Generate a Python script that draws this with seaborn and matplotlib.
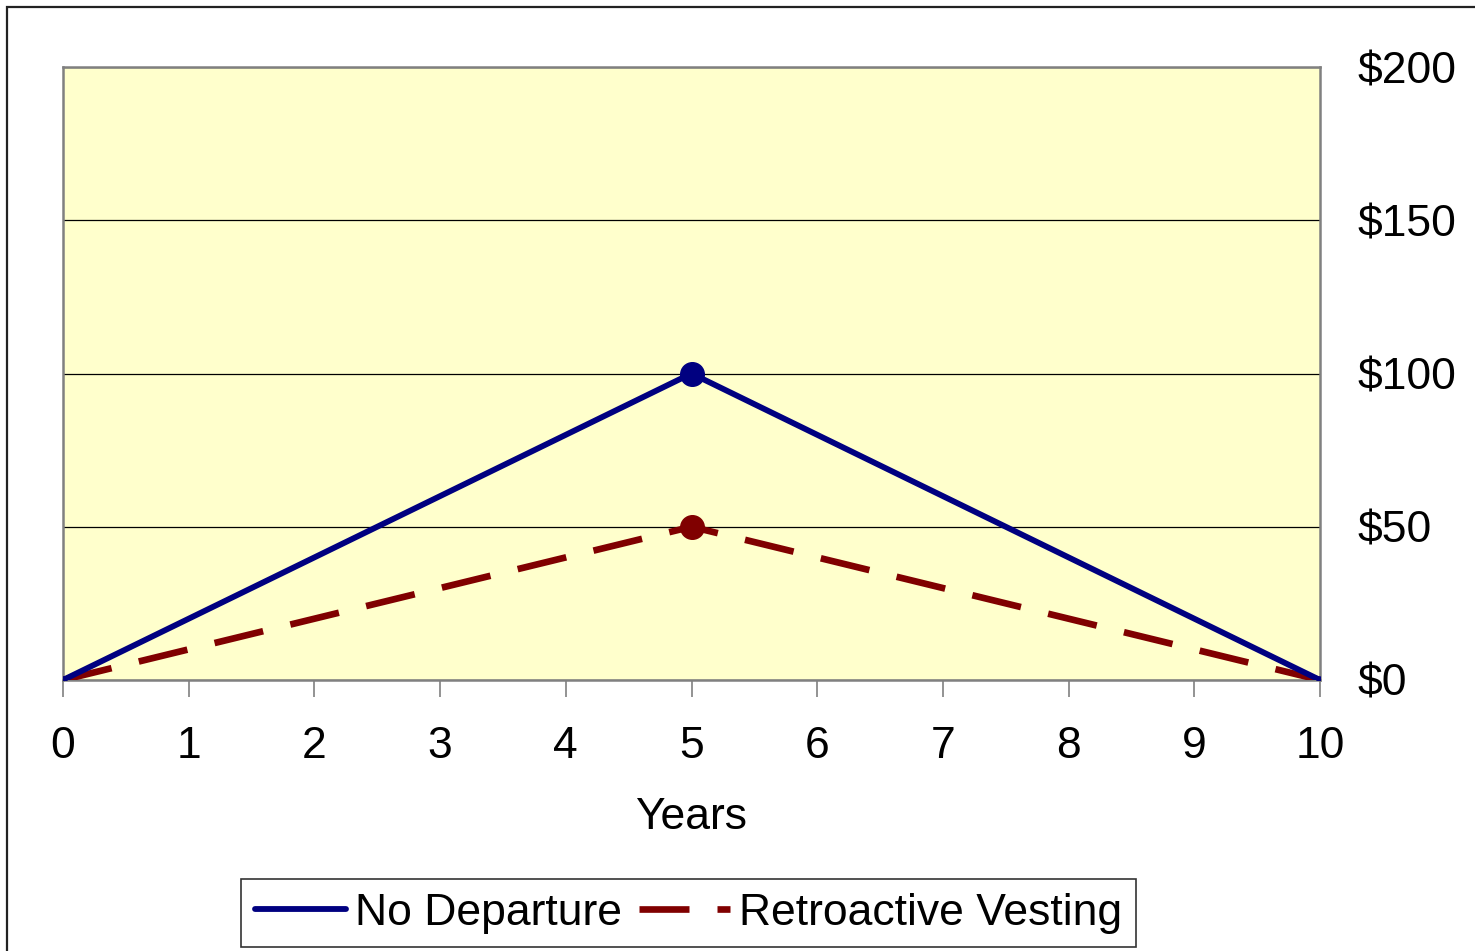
import matplotlib
matplotlib.use("Agg")
import matplotlib.pyplot as plt
import seaborn as sns
import pandas as pd
from matplotlib.patches import Rectangle
from matplotlib.ticker import FuncFormatter

years = [0, 1, 2, 3, 4, 5, 6, 7, 8, 9, 10]
no_departure = [0, 20, 40, 60, 80, 100, 80, 60, 40, 20, 0]
retroactive = [0, 10, 20, 30, 40, 50, 40, 30, 20, 10, 0]
y_ticks = [0, 50, 100, 150, 200]
x_ticks = years

sns.set_theme(style="white")
plt.rcParams['font.family'] = ['Liberation Sans', 'DejaVu Sans']
plt.rcParams['text.color'] = 'black'

FS = 32

fig = plt.figure(figsize=(14.75, 9.51), dpi=100)
fig.patch.set_facecolor("white")
fig.patches.append(Rectangle((7/1475, -0.2), 1.2, 1.2 - 7/951,
                             transform=fig.transFigure, fill=False,
                             edgecolor="#222222", linewidth=1.6, zorder=0))

ax = fig.add_axes([63/1475, 1 - 680/951, (1320 - 63)/1475, (680 - 67)/951])
ax.set_facecolor("#FFFFCC")

df1 = pd.DataFrame({"Years": years, "Value": no_departure})
df2 = pd.DataFrame({"Years": years, "Value": retroactive})

blue = "#000080"
red = "#800000"
sns.lineplot(data=df1, x="Years", y="Value", ax=ax, color=blue, linewidth=4.2,
             label="No Departure", zorder=4)
sns.lineplot(data=df2, x="Years", y="Value", ax=ax, color=red, linewidth=4.8,
             label="Retroactive Vesting", zorder=3)
ax.lines[1].set_dashes([7.5, 4.2])
ax.lines[1].set_dash_capstyle("butt")

# markers
ax.plot([years[5]], [no_departure[5]], "o", color=blue, markersize=17, zorder=5)
ax.plot([years[5]], [retroactive[5]], "o", color=red, markersize=17, zorder=5)
ax.plot([years[0], years[10]], [no_departure[0], no_departure[10]], "o",
        color=blue, markersize=5, zorder=6)

ax.set_xlim(0, 10)
ax.set_ylim(0, 200)
ax.set_xticks(x_ticks)
ax.set_yticks(y_ticks)
ax.yaxis.tick_right()
ax.yaxis.set_major_formatter(FuncFormatter(lambda v, p: f"${int(v)}"))
ax.grid(axis="y", color="black", linewidth=0.9)
ax.set_axisbelow(True)
for s in ax.spines.values():
    s.set_visible(True)
    s.set_color("#808080")
    s.set_linewidth(1.8)

ax.tick_params(axis="x", direction="out", length=12, width=1.2, color="#808080",
               labelsize=FS, pad=21, bottom=True, labelcolor="black")
ax.tick_params(axis="y", length=0, labelsize=FS, pad=27, right=True,
               labelcolor="black")
for lab in ax.get_yticklabels():
    lab.set_horizontalalignment("left")

ax.set_xlabel("Years", fontsize=FS, labelpad=22, color="black")
ax.set_ylabel("")

leg = ax.legend(loc="center", bbox_to_anchor=(688.5/1475, 1 - 913/951),
                bbox_transform=fig.transFigure, ncol=2, fontsize=FS,
                frameon=True, fancybox=False, edgecolor="black",
                handlelength=2.05, handletextpad=0.2, columnspacing=0.4,
                borderpad=0.3, borderaxespad=0)
leg.get_frame().set_linewidth(1.2)
for t in leg.get_texts():
    t.set_color("black")

fig.savefig("out.png", dpi=100)
